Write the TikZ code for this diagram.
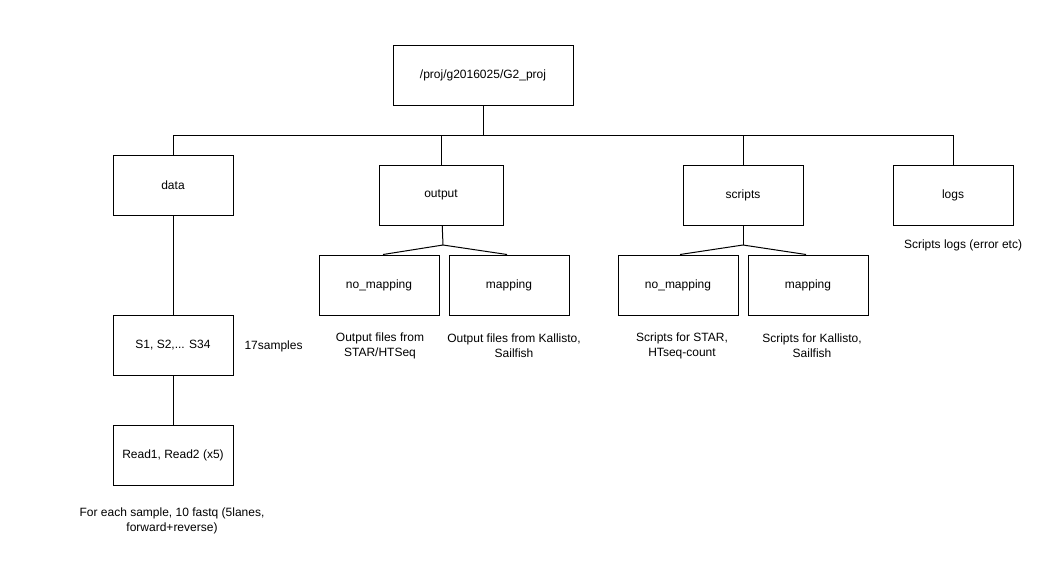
\documentclass[tikz,border=0pt]{standalone}
\usepackage{fontspec}
\setmainfont{Liberation Sans}
\usetikzlibrary{positioning,calc}

\begin{document}
\begin{tikzpicture}[x=0.75pt,y=-0.75pt,line width=0.75pt,font=\fontsize{9}{11}\selectfont,
    box/.style={draw,align=center,minimum width=90pt,minimum height=45pt,inner sep=0pt},
    note/.style={align=center,inner sep=0pt}]
      \useasboundingbox (0,0) rectangle (1037,561);
      \node[box,minimum width=135pt] (root) at (483,75) {/proj/g2016025/G2\_proj};
      \node[box] (data) at (173,185) {data};
      \node[box,minimum width=93pt] (output) at (441,195) {output};
      \node[box] (scripts) at (743,195) {scripts};
      \node[box] (logs) at (953,195) {logs};
      \node[box] (omap) at (379,285) {no\_mapping};
      \node[box] (omapk) at (509,285) {mapping};
      \node[box] (smap) at (678,285) {no\_mapping};
      \node[box] (smapk) at (808,285) {mapping};
      \node[box] (samples) at (173,345) {S1, S2,... S34};
      \node[box] (reads) at (173,455) {Read1, Read2 (x5)};
      \node[note] (logsnote) at (963,245) {Scripts logs (error etc)};
      \node[note,anchor=west] (count) at (244,346) {17samples};
      \node[note] (omapnote) at (380,346) {Output files from\\STAR/HTSeq};
      \node[note] (omapknote) at (514,346) {Output files from Kallisto,\\Sailfish};
      \node[note] (smapnote) at (682,346) {Scripts for STAR,\\HTseq-count};
      \node[note] (smapknote) at (812,346) {Scripts for Kallisto,\\Sailfish};
      \node[note] (readsnote) at (172,521) {For each sample, 10 fastq (5lanes,\\forward+reverse)};
      \coordinate (bus) at (483,135);
      \coordinate (ofork) at (443,245);
      \coordinate (sfork) at (743,245);
      \draw (root) -- (bus);
      \draw (data) |- (bus);
      \draw (output) |- (bus);
      \draw (scripts) |- (bus);
      \draw (logs) |- (bus);
      \draw (output) -- (ofork);
      \draw (ofork) -- ([xshift=3pt]omap.north);
      \draw (ofork) -- ([xshift=-1.5pt]omapk.north);
      \draw (scripts) -- (sfork);
      \draw (sfork) -- ([xshift=1.5pt]smap.north);
      \draw (sfork) -- ([xshift=-1.5pt]smapk.north);
      \draw (data) -- (samples);
      \draw (samples) -- (reads);
    \end{tikzpicture}
\end{document}
